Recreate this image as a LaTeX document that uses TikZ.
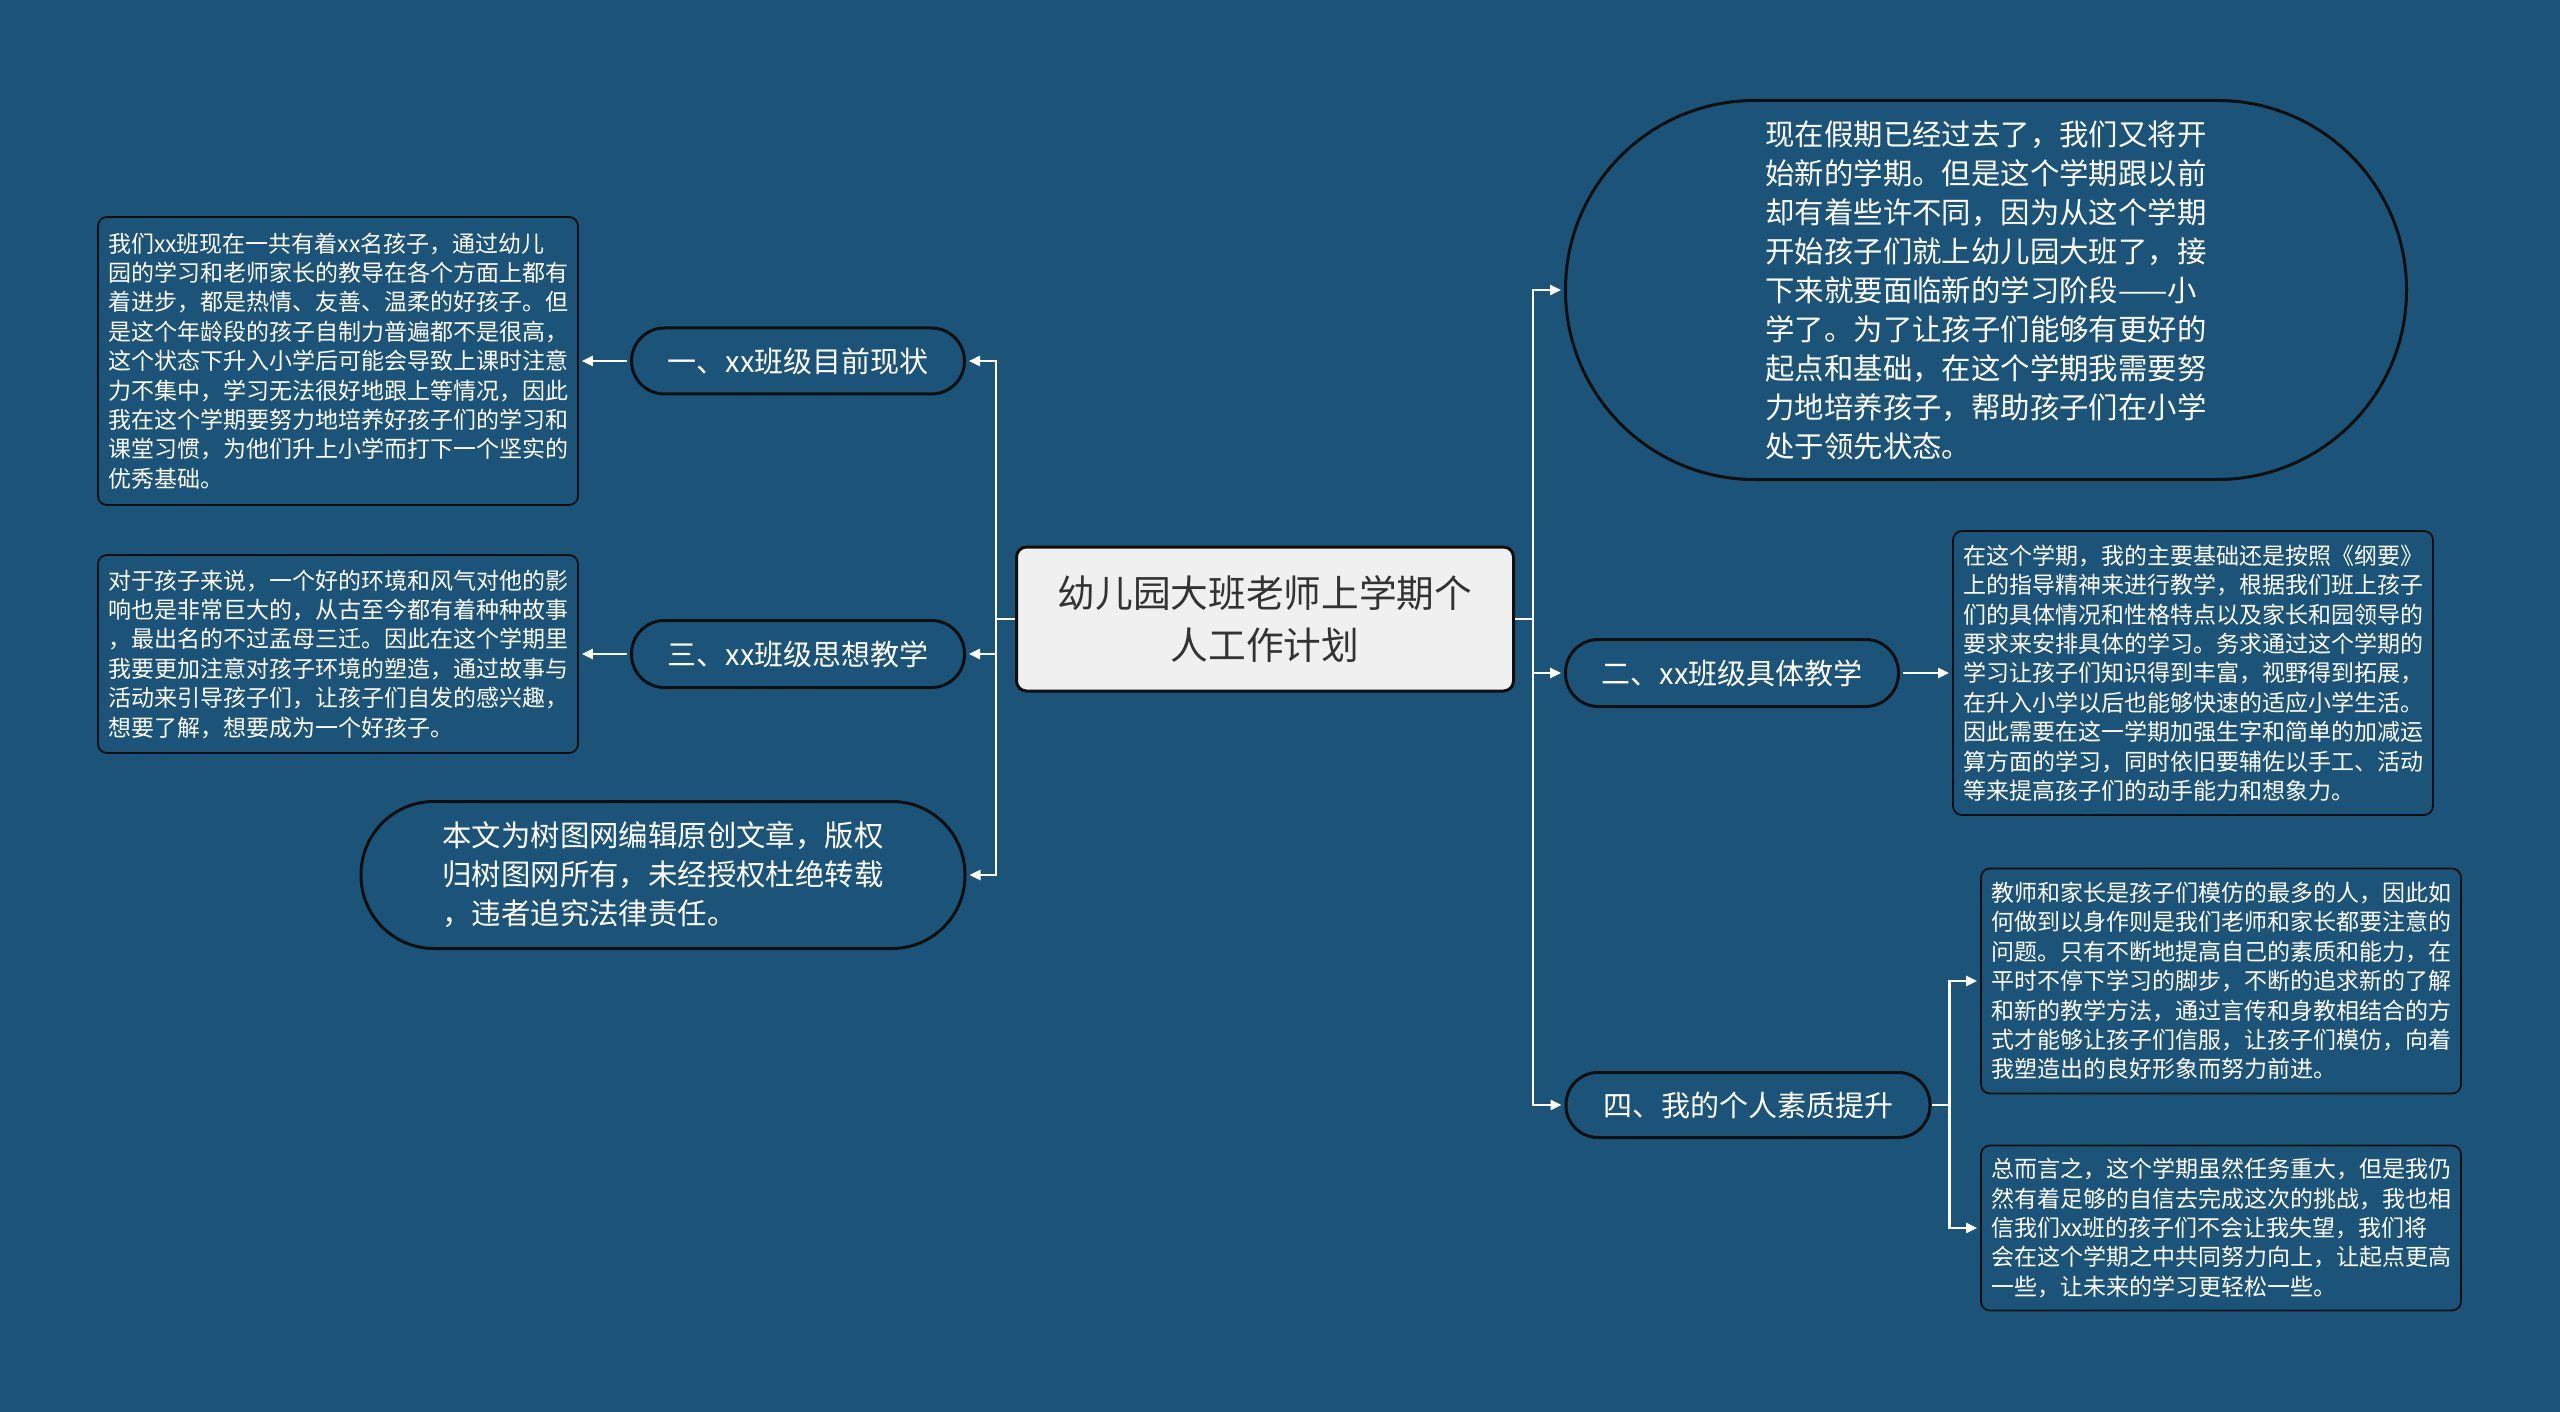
\documentclass[tikz,border=0pt]{standalone}
\usepackage{fontspec}
\setmainfont{Noto Sans CJK SC}
\usepackage{tikz}
\usetikzlibrary{arrows.meta, positioning}
\definecolor{boardblue}{RGB}{27, 84, 120}
\definecolor{rootgray}{RGB}{240, 240, 240}
\definecolor{inkgray}{RGB}{51, 51, 51}
\definecolor{edgeblack}{RGB}{15, 15, 15}

\begin{document}
\begin{tikzpicture}[x=1pt, y=-1pt,
    root/.style={draw=edgeblack, line width=3pt, fill=rootgray, rounded corners=10pt, text=inkgray, align=center, inner sep=0pt, font=\fontsize{37.7}{52}\selectfont},
    pill/.style={draw=edgeblack, line width=3pt, rounded corners=#1, text=white, align=center, inner sep=0pt, font=\fontsize{29}{39}\selectfont},
    leaf/.style={draw=edgeblack, line width=1.8pt, rounded corners=9pt, text=white, align=left, inner sep=0pt, font=\fontsize{23}{29.4}\selectfont},
    wire/.style={draw=white, line width=2.5pt},
    wirearrow/.style={wire, -{Triangle[length=11pt, width=10pt]}, shorten >=3pt}]

    % Background
    \fill[boardblue] (0,0) rectangle (2560,1412);

    % Root
    \node[root, minimum width=497pt, minimum height=144pt] (root) at (1265,619) {幼儿园大班老师上学期个\\人工作计划};

    % Right branches
    \node[pill=189pt, minimum width=841pt, minimum height=379pt, align=left, font=\fontsize{29.4}{39}\selectfont] (intro) at (1986,290)
        {现在假期已经过去了，我们又将开\\始新的学期。但是这个学期跟以前\\却有着些许不同，因为从这个学期\\开始孩子们就上幼儿园大班了，接\\下来就要面临新的学习阶段——小\\学了。为了让孩子们能够有更好的\\起点和基础，在这个学期我需要努\\力地培养孩子，帮助孩子们在小学\\处于领先状态。};
    \node[pill=33pt, minimum width=333pt, minimum height=67pt] (teach) at (1732,673) {二、xx班级具体教学};
    \node[pill=32pt, minimum width=364pt, minimum height=65pt] (self) at (1748,1105) {四、我的个人素质提升};

    \node[leaf, minimum width=480pt, minimum height=284pt] (teachtxt) at (2193,673)
        {在这个学期，我的主要基础还是按照《纲要》\\上的指导精神来进行教学，根据我们班上孩子\\们的具体情况和性格特点以及家长和园领导的\\要求来安排具体的学习。务求通过这个学期的\\学习让孩子们知识得到丰富，视野得到拓展，\\在升入小学以后也能够快速的适应小学生活。\\因此需要在这一学期加强生字和简单的加减运\\算方面的学习，同时依旧要辅佐以手工、活动\\等来提高孩子们的动手能力和想象力。};
    \node[leaf, minimum width=480pt, minimum height=225pt] (selftxta) at (2221,981)
        {教师和家长是孩子们模仿的最多的人，因此如\\何做到以身作则是我们老师和家长都要注意的\\问题。只有不断地提高自己的素质和能力，在\\平时不停下学习的脚步，不断的追求新的了解\\和新的教学方法，通过言传和身教相结合的方\\式才能够让孩子们信服，让孩子们模仿，向着\\我塑造出的良好形象而努力前进。};
    \node[leaf, minimum width=480pt, minimum height=165pt] (selftxtb) at (2221,1228)
        {总而言之，这个学期虽然任务重大，但是我仍\\然有着足够的自信去完成这次的挑战，我也相\\信我们xx班的孩子们不会让我失望，我们将\\会在这个学期之中共同努力向上，让起点更高\\一些，让未来的学习更轻松一些。};

    % Left branches
    \node[pill=33pt, minimum width=333pt, minimum height=66pt] (now) at (798,361) {一、xx班级目前现状};
    \node[pill=33pt, minimum width=333pt, minimum height=67pt] (mind) at (798,654) {三、xx班级思想教学};
    \node[pill=73pt, minimum width=604pt, minimum height=147pt, align=left, font=\fontsize{29.4}{39}\selectfont] (note) at (663,875)
        {本文为树图网编辑原创文章，版权\\归树图网所有，未经授权杜绝转载\\，违者追究法律责任。};

    \node[leaf, minimum width=480pt, minimum height=288pt] (nowtxt) at (338,361)
        {我们xx班现在一共有着xx名孩子，通过幼儿\\园的学习和老师家长的教导在各个方面上都有\\着进步，都是热情、友善、温柔的好孩子。但\\是这个年龄段的孩子自制力普遍都不是很高，\\这个状态下升入小学后可能会导致上课时注意\\力不集中，学习无法很好地跟上等情况，因此\\我在这个学期要努力地培养好孩子们的学习和\\课堂习惯，为他们升上小学而打下一个坚实的\\优秀基础。};
    \node[leaf, minimum width=480pt, minimum height=198pt] (mindtxt) at (338,654)
        {对于孩子来说，一个好的环境和风气对他的影\\响也是非常巨大的，从古至今都有着种种故事\\，最出名的不过孟母三迁。因此在这个学期里\\我要更加注意对孩子环境的塑造，通过故事与\\活动来引导孩子们，让孩子们自发的感兴趣，\\想要了解，想要成为一个好孩子。};

    % Right connectors
    \coordinate (rfork) at ([xshift=18pt]root.east);
    \draw[wire] (root.east) -- (rfork);
    \draw[wirearrow] (rfork) |- (intro.west);
    \draw[wirearrow] (rfork) |- (teach.west);
    \draw[wirearrow] (rfork) |- (self.west);
    \draw[wirearrow, shorten <=3pt] (teach.east) -- (teachtxt.west);
    \coordinate (sfork) at ([xshift=18pt]self.east);
    \draw[wire] (self.east) -- (sfork);
    \draw[wirearrow] (sfork) |- (selftxta.west);
    \draw[wirearrow] (sfork) |- (selftxtb.west);

    % Left connectors
    \coordinate (lfork) at ([xshift=-19pt]root.west);
    \draw[wire] (root.west) -- (lfork);
    \draw[wirearrow] (lfork) |- (now.east);
    \draw[wirearrow] (lfork) |- (mind.east);
    \draw[wirearrow] (lfork) |- (note.east);
    \draw[wirearrow, shorten <=3pt] (now.west) -- (nowtxt.east);
    \draw[wirearrow, shorten <=3pt] (mind.west) -- (mindtxt.east);

\end{tikzpicture}
\end{document}
